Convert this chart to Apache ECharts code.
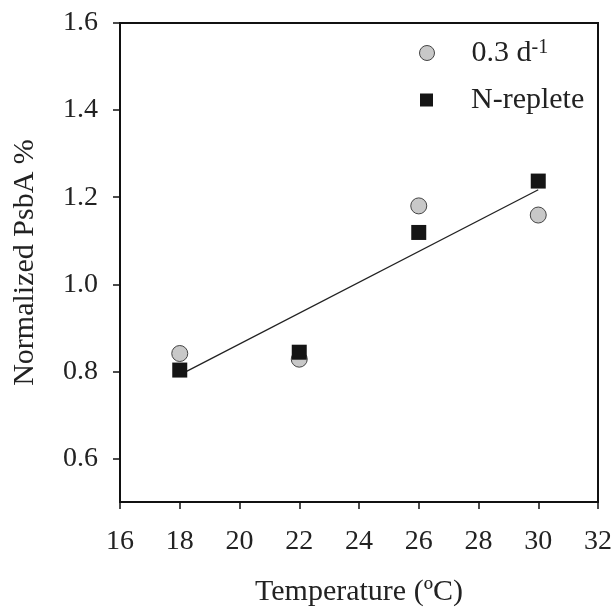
<!DOCTYPE html>
<html>
<head>
<meta charset="utf-8">
<script src="https://cdn.jsdelivr.net/npm/echarts@6.0.0/dist/echarts.min.js"></script>
<style>html,body{margin:0;padding:0;background:#fff}#c{width:616px;height:612px}</style>
</head>
<body>
<div id="c"></div>
<script>
var temperatures = [18, 22, 26, 30];
var rate03 = [0.841, 0.828, 1.180, 1.159];
var nReplete = [0.803, 0.844, 1.119, 1.237];
var trendX = [18, 30];
var trendY = [0.792, 1.217];
var yTicks = [0.6, 0.8, 1.0, 1.2, 1.4, 1.6];
var xTicks = [16, 18, 20, 22, 24, 26, 28, 30, 32];

var FONT = "'Liberation Serif','Times New Roman',serif";
var chart = echarts.init(document.getElementById('c'), null, {renderer: 'canvas'});

function pairs(xs, ys) { return xs.map(function (x, i) { return [x, ys[i]]; }); }

chart.setOption({
  animation: false,
  backgroundColor: '#fff',
  grid: {left: 120, top: 23, width: 478, height: 479, show: true, borderColor: '#111', borderWidth: 2, backgroundColor: 'transparent'},
  xAxis: {
    type: 'value', min: 16, max: 32, interval: 2,
    name: 'Temperature (ºC)', nameLocation: 'middle', nameGap: 75,
    nameTextStyle: {fontFamily: FONT, fontSize: 30, color: '#222'},
    axisLine: {show: true, onZero: false, lineStyle: {color: '#111', width: 2}},
    axisTick: {show: true, length: 7, lineStyle: {color: '#111', width: 1.5}, customValues: xTicks},
    axisLabel: {fontFamily: FONT, fontSize: 28, color: '#222', margin: 26, customValues: xTicks},
    splitLine: {show: false}
  },
  yAxis: {
    type: 'value', min: 0.5, max: 1.6,
    name: 'Normalized PsbA %', nameLocation: 'middle', nameGap: 80,
    nameTextStyle: {fontFamily: FONT, fontSize: 30, color: '#222'},
    axisLine: {show: true, onZero: false, lineStyle: {color: '#111', width: 2}},
    axisTick: {show: true, length: 7, lineStyle: {color: '#111', width: 1.5}, customValues: yTicks},
    axisLabel: {fontFamily: FONT, fontSize: 28, color: '#222', margin: 22, customValues: yTicks,
      formatter: function (v) { return v.toFixed(1); }},
    splitLine: {show: false}
  },
  legend: [
    {
      data: [{name: '0.3 d-1', icon: 'circle', itemStyle: {color: '#c8c8c8', borderColor: '#444', borderWidth: 1}}],
      left: 414, top: 33, itemWidth: 15, itemHeight: 15,
      formatter: function () { return '{b|0.3 d}{s|-1}'; },
      textStyle: {
        fontFamily: FONT, fontSize: 30, color: '#222', padding: [0, 0, 0, 32],
        rich: {
          b: {fontFamily: FONT, fontSize: 30, color: '#222'},
          s: {fontFamily: FONT, fontSize: 20, color: '#222', verticalAlign: 'top', padding: [0, 0, 10, 0]}
        }
      },
      selectedMode: false
    },
    {
      data: [{name: 'N-replete', icon: 'rect', itemStyle: {color: '#151515', borderWidth: 0}}],
      left: 415, top: 80, itemWidth: 13, itemHeight: 13,
      textStyle: {fontFamily: FONT, fontSize: 30, color: '#222', padding: [0, 0, 0, 33]},
      selectedMode: false
    }
  ],
  series: [
    {
      name: '0.3 d-1', type: 'scatter', symbol: 'circle', symbolSize: 16, z: 2,
      itemStyle: {color: '#c8c8c8', borderColor: '#444', borderWidth: 1, opacity: 1},
      data: pairs(temperatures, rate03)
    },
    {
      name: 'trend', type: 'line', symbol: 'none', z: 3,
      lineStyle: {color: '#222', width: 1.3},
      data: pairs(trendX, trendY)
    },
    {
      name: 'N-replete', type: 'scatter', symbol: 'rect', symbolSize: 15, z: 4,
      itemStyle: {color: '#151515', opacity: 1},
      data: pairs(temperatures, nReplete)
    }
  ]
});
</script>
</body>
</html>
